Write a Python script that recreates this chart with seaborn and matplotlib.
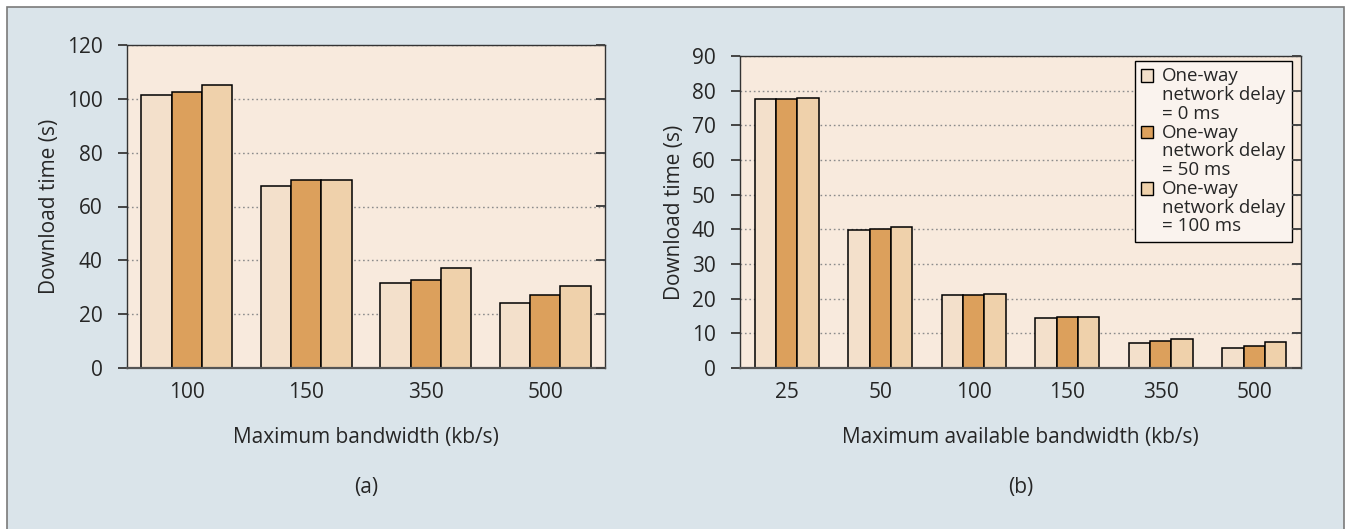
import numpy as np
import pandas as pd
import seaborn as sns
import matplotlib.pyplot as plt
from matplotlib.patches import Rectangle
from matplotlib.legend_handler import HandlerBase

# panel (a)
bw_a = ["100", "150", "350", "500"]
delay0_a = [101.5, 67.5, 31.5, 24.0]
delay50_a = [102.5, 70.0, 32.8, 27.2]
delay100_a = [105.0, 70.0, 37.3, 30.3]

# panel (b)
bw_b = ["25", "50", "100", "150", "350", "500"]
delay0_b = [77.5, 39.8, 21.0, 14.3, 7.2, 5.7]
delay50_b = [77.5, 40.2, 21.0, 14.6, 7.8, 6.3]
delay100_b = [77.8, 40.8, 21.3, 14.6, 8.5, 7.4]

series = ["One-way\nnetwork delay\n= 0 ms",
          "One-way\nnetwork delay\n= 50 ms",
          "One-way\nnetwork delay\n= 100 ms"]
colors = ["#f3e0cb", "#dca05c", "#efd1ab"]

sns.set_style("white")
plt.rcParams['font.family'] = ['Open Sans', 'DejaVu Sans']
plt.rcParams['font.size'] = 15


def make_df(cats, v0, v50, v100):
    rows = []
    for name, vals in zip(series, [v0, v50, v100]):
        for c, v in zip(cats, vals):
            rows.append({"bw": c, "delay": name, "time": v})
    return pd.DataFrame(rows)


df_a = make_df(bw_a, delay0_a, delay50_a, delay100_a)
df_b = make_df(bw_b, delay0_b, delay50_b, delay100_b)

fig = plt.figure(figsize=(13.51, 5.29), dpi=100)
fig.patch.set_facecolor("white")
fig.patches.append(Rectangle((0.005, -0.02), 0.9898, 1.007, transform=fig.transFigure,
                             facecolor="#dae4ea", edgecolor="#7a7a7a", linewidth=1.2, zorder=-10))

ax_a = fig.add_axes([127 / 1351, 1 - 368 / 529, 478 / 1351, 323 / 529])
ax_b = fig.add_axes([740 / 1351, 1 - 368 / 529, 561 / 1351, 312 / 529])


def style_axes(ax, df, cats, ymax, ystep, width, xlabel, tag):
    sns.barplot(data=df, x="bw", y="time", hue="delay", order=cats, hue_order=series,
                palette=colors, edgecolor="black", linewidth=1.1, width=width,
                saturation=1, ax=ax, legend=(tag == "(b)"))
    ax.set_facecolor("#f8eadd")
    n = len(cats)
    ax.set_xlim(-0.5, n - 0.5)
    ax.set_ylim(0, ymax)
    ax.set_yticks(np.arange(0, ymax + 1, ystep))
    ax.set_axisbelow(True)
    ax.yaxis.grid(True, linestyle=(0, (1.2, 2)), color="#8c8c8c", linewidth=1.0)
    ax.xaxis.grid(False)
    for s in ax.spines.values():
        s.set_color("#333333")
        s.set_linewidth(1.0)
    ax.spines["bottom"].set_color("#555555")
    ax.spines["bottom"].set_linewidth(1.6)
    ax.set_xticks(np.arange(-0.5, n, 1.0), minor=True)
    ax.tick_params(axis="x", which="major", length=0, pad=10, labelsize=15)
    ax.tick_params(axis="x", which="minor", length=6, width=1.0, color="#333333", direction="out")
    ax.tick_params(axis="y", which="major", length=6.5, width=1.4, color="#444444",
                   direction="out", labelsize=15, pad=11)
    ax.set_xlabel(xlabel, fontsize=15, labelpad=17)
    ax.set_ylabel("Download time (s)", fontsize=15, labelpad=5)
    bb = ax.get_position()
    fig.text(bb.x0 + bb.width / 2, 1 - 487 / 529, tag, ha="center", va="center", fontsize=15)
    tw = ax.twinx()
    tw.set_ylim(0, ymax)
    tw.set_yticks(np.arange(0, ymax + 1, ystep))
    tw.tick_params(axis="y", length=6.5, width=1.4, color="#444444", direction="in", labelright=False)
    for s in tw.spines.values():
        s.set_visible(False)


style_axes(ax_a, df_a, bw_a, 120, 20, 0.76, "Maximum bandwidth (kb/s)", "(a)")
style_axes(ax_b, df_b, bw_b, 90, 10, 0.68, "Maximum available bandwidth (kb/s)", "(b)")


class TopSquare(HandlerBase):
    # put the little square next to the first line of a multi-line label
    def create_artists(self, legend, orig_handle, xdescent, ydescent, width, height, fontsize, trans):
        p = Rectangle((-xdescent, -ydescent + fontsize * 1.05), width, height,
                      facecolor=orig_handle.get_facecolor(), edgecolor="black",
                      linewidth=1.0, transform=trans)
        return [p]


handles, labels = ax_b.get_legend_handles_labels()
leg = ax_b.legend(handles, labels, loc="upper right", bbox_to_anchor=(0.9835, 0.985),
                  frameon=True, fancybox=False, fontsize=13.5,
                  handlelength=0.65, handleheight=0.65, handletextpad=0.45,
                  labelspacing=0.05, borderpad=0.35, borderaxespad=0,
                  handler_map={type(handles[0]): TopSquare()})
leg.get_frame().set_edgecolor("black")
leg.get_frame().set_facecolor("#faf3ee")
leg.get_frame().set_alpha(1)
leg.get_frame().set_linewidth(1.0)
for t in leg.get_texts():
    t.set_linespacing(1.05)

fig.savefig("out.png", dpi=100)
